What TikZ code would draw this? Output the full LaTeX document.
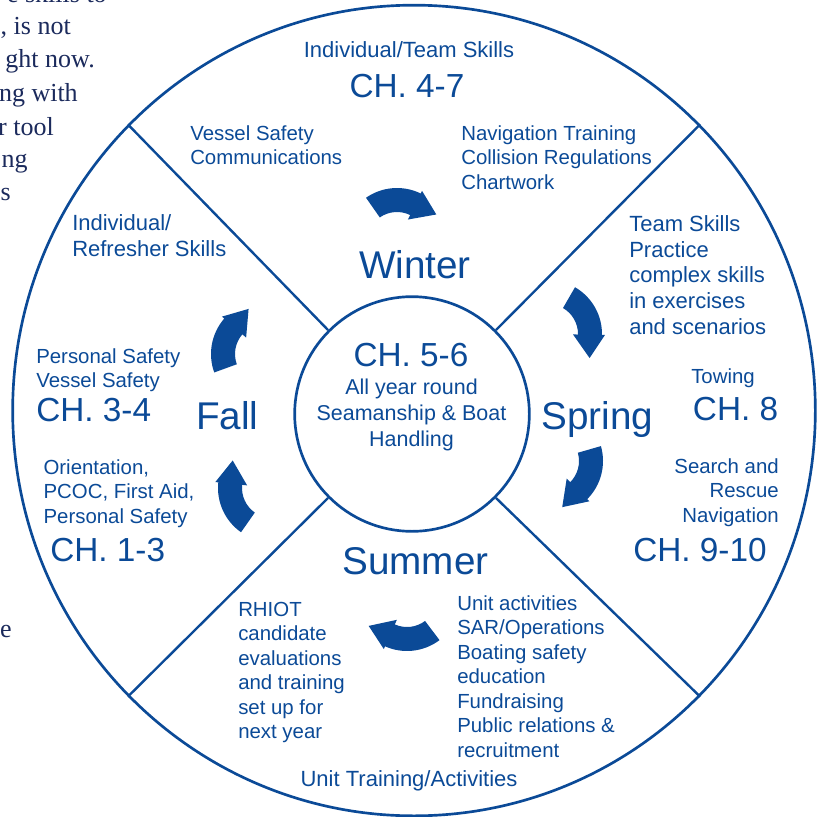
\documentclass[tikz,border=0pt]{standalone}
\usepackage{fontspec}
\setmainfont{Liberation Sans}
\newfontfamily\pageserif{Liberation Serif}
\usetikzlibrary{positioning,shapes.geometric}
\definecolor{seablue}{HTML}{0B4A97}
\definecolor{pageink}{HTML}{1B2A5C}

\begin{document}
\begin{tikzpicture}[x=0.75pt, y=-0.75pt,
    topic/.style={seablue, inner sep=0pt, align=left, font=\fontsize{15.3}{18.4}\selectfont},
    topicbig/.style={seablue, inner sep=0pt, align=left, font=\fontsize{16.5}{19.4}\selectfont},
    chapter/.style={seablue, inner sep=0pt, font=\fontsize{25}{30}\selectfont},
    season/.style={seablue, inner sep=0pt, font=\fontsize{29}{35}\selectfont},
    pagetext/.style={pageink, inner sep=0pt, anchor=base east, font=\pageserif\fontsize{19.5}{24}\selectfont}]
      \useasboundingbox (0,0) rectangle (817,817);

      % Leftover lines of the page beside the wheel
      \node[pagetext] (p1) at (107,2.5) {e skills to};
      \node[pagetext] (p2) at (71,35) {, is not};
      \node[pagetext] (p3) at (95,68) {ght now.};
      \node[pagetext] (p4) at (78,101.5) {ng with};
      \node[pagetext] (p5) at (54,135) {r tool};
      \node[pagetext] (p6) at (28,167) {ng};
      \node[pagetext] (p7) at (11,200) {s};
      \node[pagetext] (p8) at (12,637) {e};

      % Define the wheel and its four quarters
      \node[draw=seablue, line width=2pt, ellipse, inner sep=0pt, minimum width=602pt, minimum height=608pt] (rim) at (414,410.5) {};
      \node[draw=seablue, line width=2pt, circle, minimum size=176pt] (hub) at (412,414) {};
      \draw[seablue, line width=1.8pt] (hub.45) -- (rim.45);
      \draw[seablue, line width=1.8pt] (hub.135) -- (rim.135);
      \draw[seablue, line width=1.8pt] (hub.225) -- (rim.225);
      \draw[seablue, line width=1.8pt] (hub.315) -- (rim.315);

      % Define the centre
      \node[chapter, anchor=north] (ch56) at (411,342.7) {CH. 5-6};
      \node[seablue, inner sep=0pt, align=center, anchor=north,
            font=\fontsize{16.1}{19.5}\selectfont] (allyear) at (411.5,379)
            {All year round\\Seamanship \& Boat\\Handling};

      % Winter quarter
      \node[topicbig, anchor=north] (indteam) at (409,41.7) {Individual/Team Skills};
      \node[chapter, anchor=north] (ch47) at (407,74) {CH. 4-7};
      \node[topic, anchor=north west] (vessel) at (190,125) {Vessel Safety\\Communications};
      \node[topic, anchor=north west] (navig) at (461,125) {Navigation Training\\Collision Regulations\\Chartwork};
      \node[season, anchor=north] (winter) at (415,250) {Winter};

      % Spring quarter
      \node[topicbig, anchor=north west] (team) at (629,215)
            {Team Skills\\Practice\\complex skills\\in exercises\\and scenarios};
      \node[season, anchor=north west] (spring) at (541,401.7) {Spring};
      \node[topic, anchor=north west] (towing) at (691,368.3) {Towing};
      \node[chapter, anchor=north west] (ch8) at (692.7,396.7) {CH. 8};
      \node[topic, align=right, anchor=north east] (sar) at (779,458.3) {Search and\\Rescue\\Navigation};
      \node[chapter, anchor=north west] (ch910) at (633,538.3) {CH. 9-10};

      % Summer quarter
      \node[season, anchor=north] (summer) at (415.5,547) {Summer};
      \node[topic, anchor=north west] (rhiot) at (238,601.7)
            {RHIOT\\candidate\\evaluations\\and training\\set up for\\next year};
      \node[topic, anchor=north west] (unitact) at (457,595)
            {Unit activities\\SAR/Operations\\Boating safety\\education\\Fundraising\\Public relations \&\\recruitment};
      \node[topicbig, anchor=north] (unittrain) at (409,770) {Unit Training/Activities};

      % Fall quarter
      \node[topicbig, anchor=north west] (indref) at (72,214.5) {Individual/\\Refresher Skills};
      \node[topic, anchor=north west] (persves) at (36,348.3) {Personal Safety\\Vessel Safety};
      \node[chapter, anchor=north west] (ch34) at (36,398.3) {CH. 3-4};
      \node[season, anchor=north west] (fall) at (196,401.7) {Fall};
      \node[topic, anchor=north west] (orient) at (43.3,459.3) {Orientation,\\PCOC, First Aid,\\Personal Safety};
      \node[chapter, anchor=north west] (ch13) at (50,538.3) {CH. 1-3};

      % Draw the turning arrows round the centre
      \foreach \x/\y/\r in {397/242/0, 548/334/-65, 549/461/-109, 407/597/-178, 272/488/-250, 265/354/-285}
        \fill[seablue, shift={(\x,\y)}, rotate=\r]
          (-125:54) arc[start angle=-125, end angle=-64, radius=54] -- (-64:57) -- (-35:48)
          -- (-64:25) -- (-64:30) arc[start angle=-64, end angle=-125, radius=30] -- cycle;
\end{tikzpicture}
\end{document}
